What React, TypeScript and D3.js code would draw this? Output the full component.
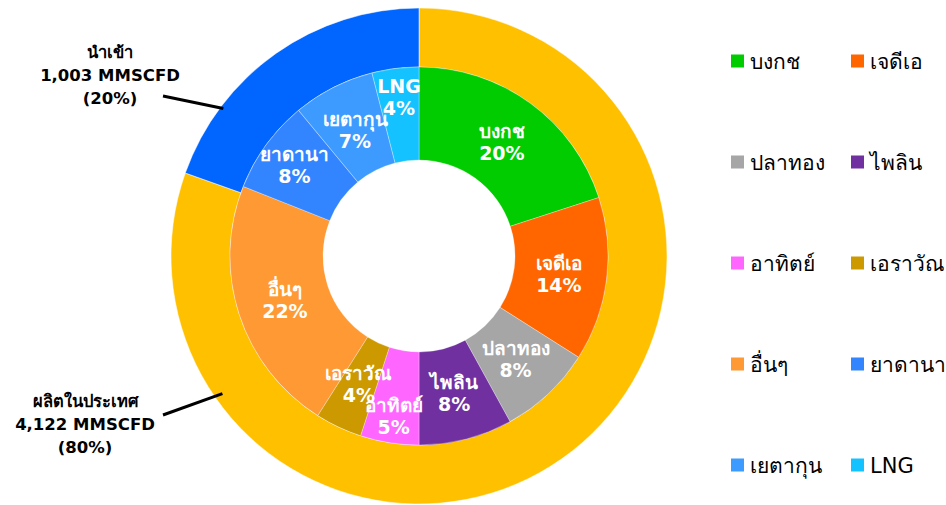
import React from "react";
import * as d3 from "d3";

const sourceNames = ["บงกช", "เจดีเอ", "ปลาทอง", "ไพลิน", "อาทิตย์", "เอราวัณ", "อื่นๆ", "ยาดานา", "เยตากุน", "LNG"];
const sourceShares = [20, 14, 8, 8, 5, 4, 22, 8, 7, 4];
const sourceColors = ["#00CC00", "#FF6600", "#A6A6A6", "#7030A0", "#FF66FF", "#CC9900", "#FF9933", "#3385FF", "#3D9BFF", "#14C2FF"];

const groupNames = ["ผลิตในประเทศ", "นำเข้า"];
const groupValues = [4122, 1003];
const groupPercents = ["80%", "20%"];
const groupColors = ["#FFC000", "#0066FF"];

const W = 946;
const H = 505;
const cx = 419;
const cy = 256;
const rHole = 96;
const rMid = 189;
const rOuter = 248;

const FONT = "Tahoma, 'DejaVu Sans', Verdana, 'Noto Sans', sans-serif";

export default function App() {
  const pie = d3.pie<number>().sort(null).value((d) => d);
  const innerArcs = pie(sourceShares);
  const outerArcs = pie(groupValues);
  const innerArc = d3.arc<d3.PieArcDatum<number>>().innerRadius(rHole).outerRadius(rMid);
  const outerArc = d3.arc<d3.PieArcDatum<number>>().innerRadius(rMid).outerRadius(rOuter);

  const labelRadius: Record<string, number> = { "อาทิตย์": 162, LNG: 160, "ยาดานา": 154 };
  const polar = (a: number, r: number): [number, number] => [Math.sin(a) * r, -Math.cos(a) * r];

  const callouts = [
    { idx: 0, angle: 235, r: 240, lineStart: [163, 415], textX: 85, textY: 407 },
    { idx: 1, angle: 307, r: 245, lineStart: [163, 96], textX: 110, textY: 58 },
  ];

  const legendX = [731, 851];
  const legendY0 = 61;
  const legendStep = 101;

  return (
    <svg width={W} height={H} style={{ position: "absolute", left: 0, top: 0, background: "#fff" }} fontFamily={FONT}>
      <g transform={`translate(${cx},${cy})`}>
        {outerArcs.map((a, i) => (
          <path key={"o" + i} d={outerArc(a) || ""} fill={groupColors[i]} stroke="#fff" strokeWidth={0.5} />
        ))}
        {innerArcs.map((a, i) => (
          <path key={"i" + i} d={innerArc(a) || ""} fill={sourceColors[i]} stroke="#fff" strokeWidth={0.5} strokeOpacity={0.6} />
        ))}
        {innerArcs.map((a, i) => {
          const mid = (a.startAngle + a.endAngle) / 2;
          const r = labelRadius[sourceNames[i]] ?? 141;
          const [x, y] = polar(mid, r);
          return (
            <text key={"l" + i} x={x} y={y} textAnchor="middle" fill="#fff" fontWeight="bold" fontSize={19}>
              <tspan x={x} dy={-4}>{sourceNames[i]}</tspan>
              <tspan x={x} dy={22}>{d3.format(".0f")(sourceShares[i]) + "%"}</tspan>
            </text>
          );
        })}
      </g>
      {callouts.map((c) => {
        const [ex, ey] = polar((c.angle * Math.PI) / 180, c.r);
        return (
          <g key={"c" + c.idx}>
            <line x1={c.lineStart[0]} y1={c.lineStart[1]} x2={cx + ex} y2={cy + ey} stroke="#000" strokeWidth={3} />
            <text x={c.textX} textAnchor="middle" fontWeight="bold" fontSize={16.5} fill="#000">
              <tspan x={c.textX} y={c.textY}>{groupNames[c.idx]}</tspan>
              <tspan x={c.textX} y={c.textY + 23}>{d3.format(",")(groupValues[c.idx]) + " MMSCFD"}</tspan>
              <tspan x={c.textX} y={c.textY + 46}>{"(" + groupPercents[c.idx] + ")"}</tspan>
            </text>
          </g>
        );
      })}
      {sourceNames.map((n, i) => {
        const col = i % 2;
        const row = Math.floor(i / 2);
        const y = legendY0 + row * legendStep;
        return (
          <g key={"lg" + i}>
            <rect x={legendX[col]} y={y - 6.5} width={13} height={13} fill={sourceColors[i]} />
            <text x={legendX[col] + 19} y={y + 7.5} fontSize={21} fill="#000">{n}</text>
          </g>
        );
      })}
    </svg>
  );
}
